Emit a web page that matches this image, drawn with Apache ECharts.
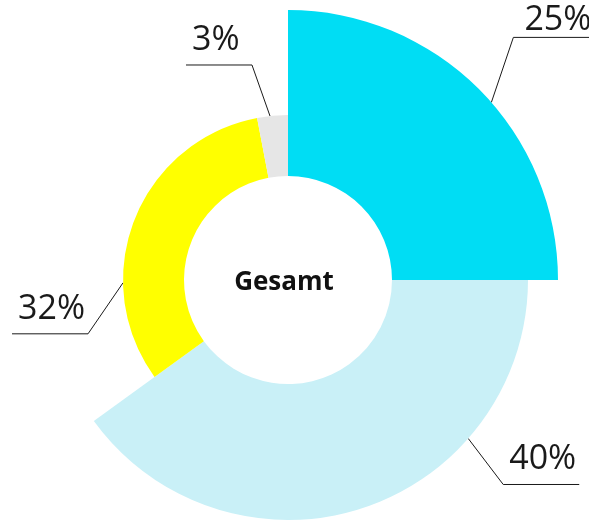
<!DOCTYPE html>
<html><head><meta charset="utf-8">
<script src="https://cdn.jsdelivr.net/npm/echarts@6/dist/echarts.min.js"></script>
<style>html,body{margin:0;padding:0;background:#fff}#c{width:589px;height:520px}</style>
</head><body><div id="c"></div>
<script>
// ---- data ----
const categories = ['Segment A', 'Segment B', 'Segment C', 'Segment D'];
const values = [25, 40, 32, 3];
const centerText = 'Gesamt';

// ---- style ----
const colors = ['#00DDF4', '#C9F0F7', '#FFFF00', '#E6E6E6'];
const outerRadii = [270, 240, 165, 165];
const innerRadius = 104;
const center = [288, 280];
const labelGeom = [
  {frac: 0.543, dx: 22, dy: -65, len: 81, side: 1, gap: 0},
  {frac: 0.287, dx: 35, dy: 46, len: 76, side: 1, gap: 8},
  {frac: 0.304, dx: -35, dy: 51, len: 76, side: -1, gap: 8},
  {frac: 0.42, dx: -18, dy: -51, len: 66, side: -1, gap: 8}
];

const total = values.reduce((a, b) => a + b, 0);
const cumStart = [];
values.reduce((acc, v, i) => { cumStart[i] = acc; return acc + v; }, 0);

const chart = echarts.init(document.getElementById('c'), null, {renderer: 'canvas'});

function makeLayout(i) {
  return function (params) {
    if (params.dataIndex !== i) return {};
    const g = labelGeom[i];
    const frac = (cumStart[i] + g.frac * values[i]) / total;
    const th = frac * 2 * Math.PI;
    const r = outerRadii[i];
    const ax = center[0] + r * Math.sin(th);
    const ay = center[1] - r * Math.cos(th);
    const ex = ax + g.dx, ey = ay + g.dy;
    const lx = ex + g.side * g.len;
    return {
      x: g.side > 0 ? lx - 3 : lx + 6,
      y: ey - g.gap,
      align: g.side > 0 ? 'right' : 'left',
      verticalAlign: 'bottom',
      labelLinePoints: [[ax, ay], [ex, ey], [lx, ey]]
    };
  };
}

const series = values.map((_, i) => ({
  type: 'pie',
  center: center,
  radius: [innerRadius, outerRadii[i]],
  startAngle: 90,
  clockwise: true,
  silent: true,
  animation: false,
  avoidLabelOverlap: false,
  label: {
    show: true,
    formatter: '{c}%',
    fontSize: 34,
    fontFamily: 'Open Sans',
    color: '#1a1a1a'
  },
  labelLine: {show: true, lineStyle: {color: '#1a1a1a', width: 1}},
  labelLayout: makeLayout(i),
  data: values.map((v, j) => ({
    value: v,
    name: categories[j],
    itemStyle: {color: j === i ? colors[i] : 'rgba(0,0,0,0)'},
    label: {show: j === i},
    labelLine: {show: j === i}
  }))
}));

chart.setOption({
  backgroundColor: '#fff',
  animation: false,
  series: series,
  graphic: [{
    type: 'text',
    x: center[0] - 4,
    y: center[1] + 3,
    style: {
      text: centerText,
      fontSize: 26,
      fontWeight: 'bold',
      fontFamily: 'Open Sans',
      fill: '#111',
      textAlign: 'center',
      textVerticalAlign: 'middle',
      align: 'center',
      verticalAlign: 'middle'
    }
  }]
});
</script></body></html>
